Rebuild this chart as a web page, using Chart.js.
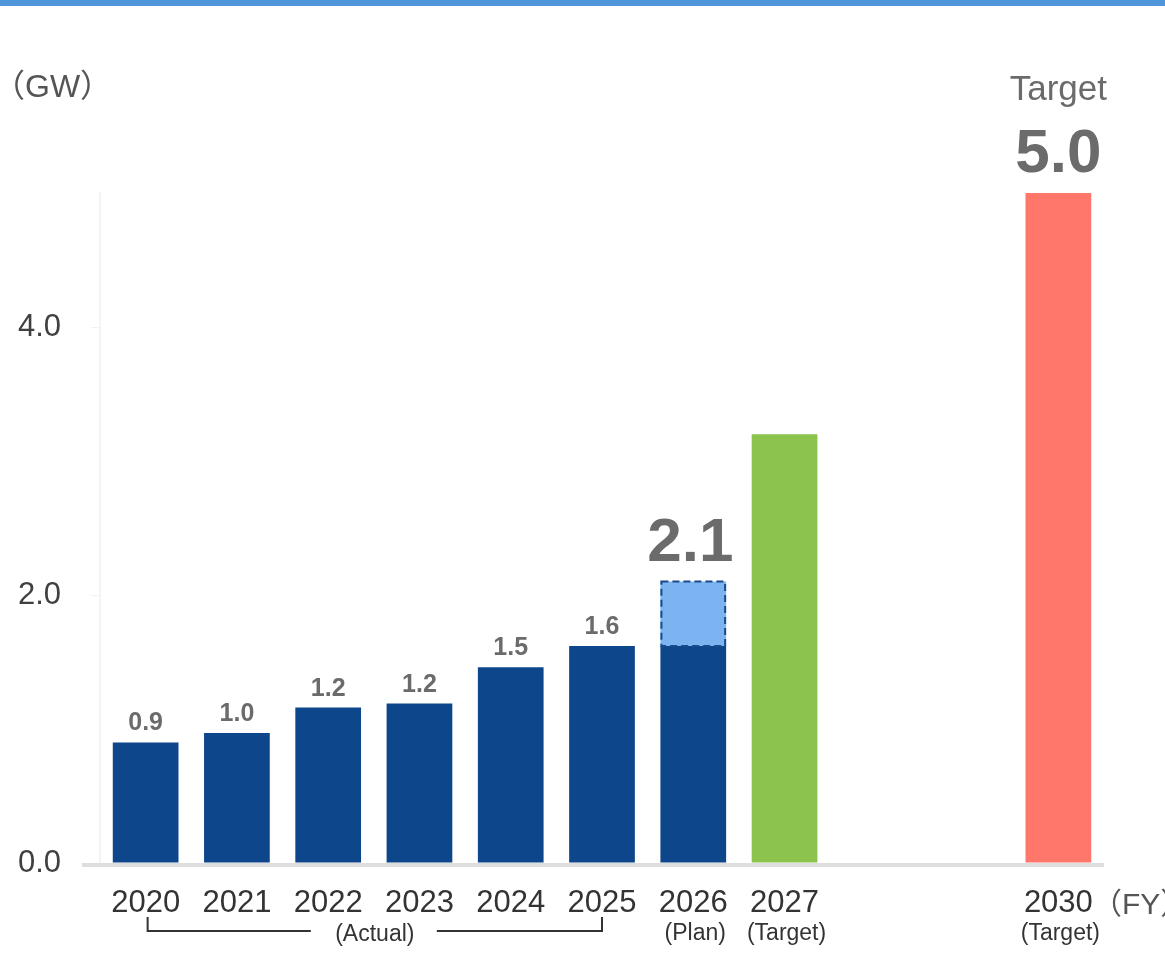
<!DOCTYPE html>
<html>
<head>
<meta charset="utf-8">
<title>Capacity (GW)</title>
<script src="https://cdn.jsdelivr.net/npm/chart.js@4.4.1/dist/chart.umd.min.js"></script>
<style>
    html, body { margin: 0; padding: 0; background: #ffffff; }
    #wrap { position: relative; width: 1165px; height: 961px; overflow: hidden; }
    #topbar { position: absolute; left: 0; top: 0; width: 1165px; height: 6px; background: #4e95da; }
    #chart { position: absolute; left: 0; top: 0; }
</style>
</head>
<body>
<div id="wrap">
    <canvas id="chart" width="1165" height="961"></canvas>
    <div id="topbar"></div>
</div>
<script>
// Data
    var fiscalYears = ['2020', '2021', '2022', '2023', '2024', '2025', '2026', '2027', '2028', '2029', '2030'];
    var capacity    = [0.9, 0.97, 1.16, 1.19, 1.46, 1.62, 1.62, 3.2, null, null, 5.0];
    var planAdded   = [null, null, null, null, null, null, 0.48, null, null, null, null];
    var yearNotes   = ['', '', '', '', '', '', '(Plan)', '(Target)', '', '', '(Target)'];
    var yTicks      = [0, 2, 4];
    var actualCount = 6;   // 2020-2025 are results

// Colours
    var navy = '#0d468a';
    var barColors = capacity.map(function(v, i){
        if (i == 7) return '#8bc34c';
        if (i == 10) return '#ff766a';
        return navy;
    });

    var fontFamily = '"Liberation Sans", Arial, "Noto Sans CJK JP", sans-serif';

// Labels, brackets and dashed outline drawn over the bars
    var annotations = {
        id: 'annotations',
        afterDatasetsDraw: function(chart){
            var ctx = chart.ctx;
            var area = chart.chartArea;
            var x = chart.scales.x;
            var bars = chart.getDatasetMeta(0).data;
            var planBars = chart.getDatasetMeta(1).data;

            ctx.save();

            // baseline
            ctx.fillStyle = '#dedede';
            ctx.fillRect(area.left - 18, area.bottom, area.right - area.left + 18, 4);

            // dashed outline of the planned part
            var pb = planBars[6];
            ctx.strokeStyle = '#1a4a88';
            ctx.lineWidth = 2;
            ctx.setLineDash([7, 4]);
            ctx.strokeRect(pb.x - pb.width / 2 + 1, pb.y, pb.width - 2, pb.base - pb.y);
            ctx.setLineDash([]);

            // value labels
            ctx.fillStyle = '#6b6b6b';
            ctx.textAlign = 'center';
            ctx.textBaseline = 'alphabetic';
            for (var i = 0; i < actualCount; i++) {
                ctx.font = 'bold 25px ' + fontFamily;
                ctx.fillText(capacity[i].toFixed(1), bars[i].x, bars[i].y - 12);
            }
            ctx.font = 'bold 62px ' + fontFamily;
            ctx.fillText((capacity[6] + planAdded[6]).toFixed(1), pb.x - 3, pb.y - 21);
            ctx.fillText(capacity[10].toFixed(1), bars[10].x, bars[10].y - 21);
            ctx.font = '35px ' + fontFamily;
            ctx.fillText('Target', bars[10].x, bars[10].y - 93);

            // notes under the years
            ctx.fillStyle = '#333333';
            ctx.font = '23px ' + fontFamily;
            ctx.textBaseline = 'middle';
            for (var j = 0; j < yearNotes.length; j++) {
                if (yearNotes[j]) ctx.fillText(yearNotes[j], x.getPixelForValue(j) + 2, 934);
            }

            // bracket over the actual years
            var x0 = x.getPixelForValue(0) + 2;
            var x1 = x.getPixelForValue(actualCount - 1);
            var mid = (x0 + x1) / 2;
            ctx.fillText('(Actual)', mid, 935);
            ctx.strokeStyle = '#333333';
            ctx.lineWidth = 2;
            ctx.beginPath();
            ctx.moveTo(x0, 917); ctx.lineTo(x0, 931); ctx.lineTo(mid - 64, 931);
            ctx.moveTo(mid + 62, 931); ctx.lineTo(x1, 931); ctx.lineTo(x1, 917);
            ctx.stroke();

            // units
            ctx.fillStyle = '#555555';
            ctx.font = '32px ' + fontFamily;
            ctx.textAlign = 'left';
            ctx.fillText('（GW）', -7, 88);
            ctx.font = '30px ' + fontFamily;
            ctx.fillText('（FY）', area.right - 12, 906);

            ctx.restore();
        }
    };

    var chart = new Chart(document.getElementById('chart'), {
        type: 'bar',
        data: {
            labels: fiscalYears,
            datasets: [{
                label: 'Capacity',
                data: capacity,
                backgroundColor: barColors,
                borderWidth: 0,
                barPercentage: 0.72,
                categoryPercentage: 1
            }, {
                label: 'Plan',
                data: planAdded,
                backgroundColor: '#7cb4f2',
                borderWidth: 0,
                barPercentage: 0.72,
                categoryPercentage: 1
            }]
        },
        options: {
            responsive: false,
            animation: false,
            layout: { padding: { top: 193, right: 61, left: 0, bottom: 0 } },
            plugins: {
                legend: { display: false },
                tooltip: { enabled: false }
            },
            scales: {
                x: {
                    stacked: true,
                    grid: { display: false, drawTicks: false },
                    border: { display: false },
                    afterFit: function(scale){ scale.height = 98; },
                    ticks: {
                        padding: 22,
                        color: '#333333',
                        font: { family: fontFamily, size: 31 },
                        maxRotation: 0,
                        autoSkip: false,
                        callback: function(value, index){
                            return capacity[index] == null ? '' : fiscalYears[index];
                        }
                    }
                },
                y: {
                    stacked: true,
                    min: 0,
                    max: 5,
                    afterFit: function(scale){ scale.width = 100; },
                    afterBuildTicks: function(scale){
                        scale.ticks = yTicks.map(function(v){ return { value: v }; });
                    },
                    grid: { drawOnChartArea: false, color: '#f2f2f2', tickLength: 9 },
                    border: { color: '#f4f4f4', width: 2 },
                    ticks: {
                        padding: 30,
                        color: '#404040',
                        font: { family: fontFamily, size: 31 },
                        callback: function(value){ return value.toFixed(1); }
                    }
                }
            }
        },
        plugins: [annotations]
    });
</script>
</body>
</html>
